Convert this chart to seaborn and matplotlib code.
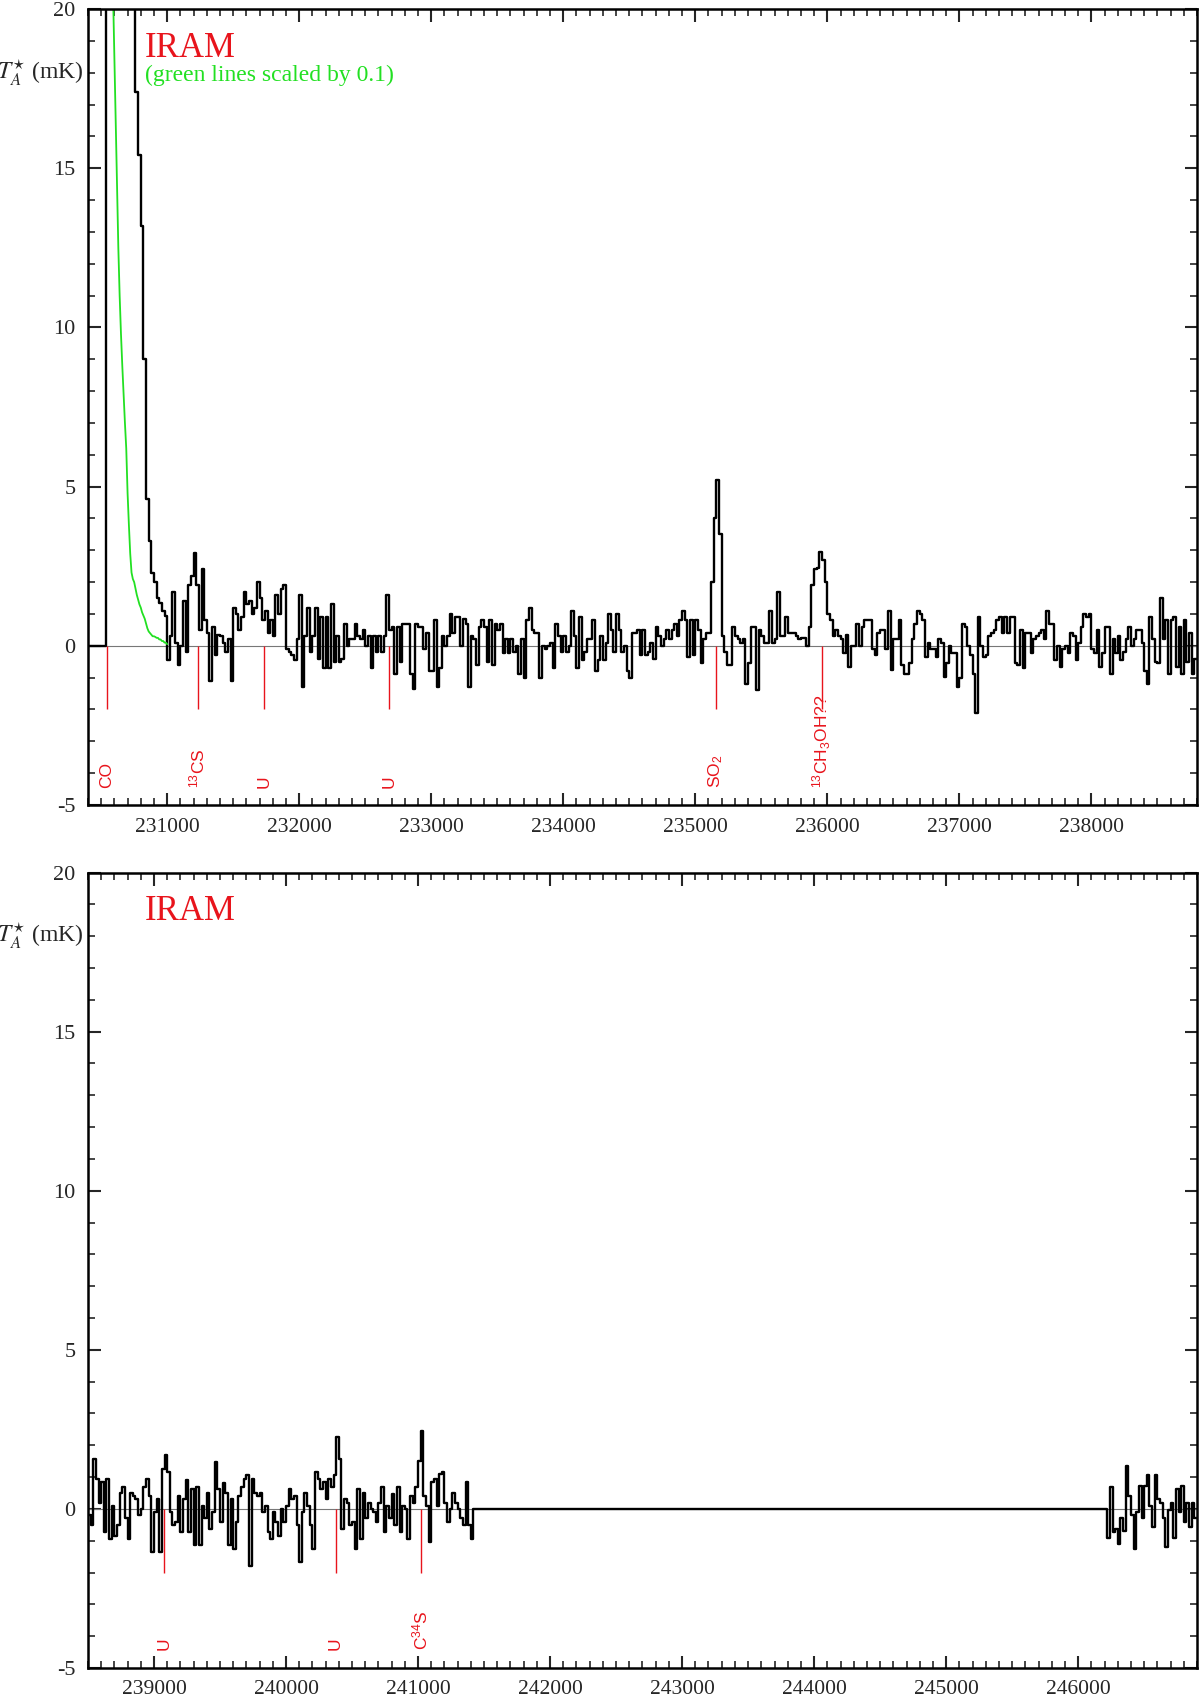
import numpy as np
import pandas as pd
import seaborn as sns
import matplotlib
matplotlib.use("Agg")
import matplotlib.pyplot as plt
import matplotlib.transforms as mtransforms
from matplotlib.ticker import MultipleLocator

sns.set_theme(style="ticks")
plt.rcParams['font.family'] = ['Liberation Serif', 'DejaVu Serif']
plt.rcParams['axes.unicode_minus'] = False
plt.rcParams['mathtext.fontset'] = 'custom'
plt.rcParams['mathtext.rm'] = 'Liberation Sans'
plt.rcParams['mathtext.it'] = 'Liberation Sans:italic'
plt.rcParams['mathtext.bf'] = 'Liberation Sans:bold'

RED = "#e8141c"
GREEN = "#22e022"

# spectrum, 20 MHz channels, T_A* in mK
chan = 20.0

top_start = 230400.0
top_values = [
    0, 0, 0, 0, 0, 0, 0, 80, 80, 80,
    80, 80, 80, 80, 80, 80, 80, 80, 17.4, 15.4,
    13.2, 9.0, 4.6, 3.3, 2.3, 2.0, 1.5, 1.35, 1.1, 0.95,
    -0.45, 0.3, 1.7, 0.1, -0.6, 0.0, 1.4, -0.2, 1.9, 2.2,
    2.9, 1.9, 0.5, 2.4, 0.8, 0.4, -1.1, 0.6, -0.3, 0.35,
    0.3, 0.1, -0.2, 0.2, -1.1, 1.2, 1.0, 0.5, 0.9, 1.7,
    1.3, 1.4, 1.0, 1.2, 2.0, 1.5, 0.8, 1.1, 0.4, 0.8,
    0.3, 1.6, 1.0, 1.8, 1.9, -0.1, -0.2, -0.3, -0.45, 0.2,
    1.6, -1.3, 0.3, 1.2, -0.2, 0.3, 1.2, -0.4, 0.9, -0.7,
    0.9, -0.7, 1.3, -0.5, 0.3, -0.5, -0.4, 0.7, 0.0, 0.2,
    0.2, 0.7, 0.3, 0.2, 0.5, 0.0, 0.3, -0.7, 0.3, -0.2,
    0.3, -0.2, 0.3, 1.6, 0.5, 0.6, -0.9, 0.6, -0.5, 0.7,
    0.7, 0.7, -0.9, -1.35, 0.7, 0.6, 0.6, -0.1, 0.4, -0.8,
    -0.8, 0.8, -1.3, -0.7, 0.3, 0.0, 0.3, 1.0, 0.4, 0.9,
    0.9, 0.0, 0.85, 0.7, -1.3, 0.3, 0.2, -0.6, 0.6, 0.8,
    0.6, -0.5, 0.8, -0.6, 0.7, 0.5, 0.7, -0.24, 0.2, -0.24,
    0.2, -0.2, 0.0, -0.9, 0.2, -1.0, 0.8, 1.2, 0.5, 0.4,
    0.4, -1.0, 0.0, -0.1, 0.0, 0.1, -0.7, 0.7, 0.3, -0.2,
    0.3, -0.2, 0.0, 1.1, 0.3, -0.7, 0.9, -0.45, -0.2, 0.2,
    0.2, 0.8, -0.8, -0.45, 0.3, -0.45, 0.1, 1.0, 0.5, -0.2,
    1.0, 0.5, -0.2, 0.0, -0.8, -1.0, 0.4, 0.4, 0.5, -0.3,
    0.5, -0.3, -0.2, 0.1, -0.4, 0.6, 0.3, 0.0, 0.2, 0.5,
    0.2, 0.5, 0.7, 0.3, 0.8, 1.1, 0.8, -0.35, 0.8, -0.3,
    0.8, 0.5, -0.55, 0.2, 0.4, 0.4, 2.0, 4.0, 5.2, 3.5,
    0.3, -0.2, -0.6, -0.6, 0.6, 0.3, 0.2, 0.1, 0.2, -1.2,
    -0.55, 0.6, 0.6, -1.4, 0.5, 0.3, 0.1, 0.1, 1.1, 0.1,
    0.2, 1.7, 0.3, 0.3, 0.9, 0.4, 0.4, 0.4, 0.3, 0.2,
    0.25, 0.25, 0.0, 0.6, 1.9, 2.4, 2.45, 2.95, 2.7, 2.0,
    1.0, 0.8, 0.3, 0.5, 0.3, 0.2, -0.24, 0.35, -0.68, 0.0,
    0.0, 0.7, 0.0, 0.6, 0.8, 0.8, 0.8, -0.1, -0.3, 0.4,
    0.5, 0.5, -0.1, 1.1, -0.76, 0.2, 0.2, 0.8, -0.6, -0.88,
    -0.88, -0.55, 0.2, 0.7, 1.1, 1.0, 0.8, -0.35, 0.1, -0.1,
    -0.1, -0.35, 0.2, 0.1, -0.97, -0.55, 0.0, -0.24, -0.24, -1.29,
    -1.0, 0.7, 0.6, 0.0, -0.3, -0.88, -2.1, 0.9, 0.0, -0.35,
    -0.3, 0.3, 0.4, 0.5, 0.8, 0.9, 0.4, 0.9, 0.4, 0.9,
    0.9, -0.55, -0.6, 0.5, -0.7, 0.4, 0.4, -0.24, 0.2, 0.3,
    0.4, 0.5, 0.2, 1.1, 0.7, 0.7, -0.45, 0.0, -0.68, -0.1,
    0.0, -0.24, 0.4, 0.3, -0.45, 0.1, 0.6, 1.0, 0.9, 1.0,
    -0.1, -0.24, 0.5, -0.68, -0.24, 0.6, 0.6, -0.88, 0.2, -0.24,
    0.3, -0.45, -0.2, 0.2, 0.6, 0.0, 0.2, 0.5, 0.5, 0.1,
    -0.8, -1.2, 0.9, 0.2, -0.5, -0.55, 1.5, 0.2, 0.8, -0.88,
    0.8, 0.9, -0.68, 0.6, -0.9, 0.8, -0.5, 0.4, -0.9, -0.4,
]

# CO wing, scaled by 0.1, 10 MHz sampling
green_start = 230580.0
green_step = 10.0
green_values = [
    30, 20.5, 18.5, 16.5, 14.5, 12.5, 11.0, 9.8, 8.8, 7.9,
    7.0, 6.2, 4.8, 3.8, 2.9, 2.3, 2.1, 2.0, 1.8, 1.6,
    1.45, 1.3, 1.2, 1.05, 0.95, 0.85, 0.7, 0.55, 0.45, 0.4,
    0.35, 0.3, 0.3, 0.28, 0.25, 0.25, 0.2, 0.2, 0.15, 0.15,
    0.1, 0.1, 0.05,
]

bot_start = 238500.0
bot_left_values = [
    -0.2, -0.5, 1.57, 0.94, 0.2, 0.84, -0.73, 0.94, -0.94, 0.1,
    -0.84, -0.5, 0.5, 0.7, -0.3, -0.94, 0.5, 0.42, 0.3, -0.2,
    0.0, 0.7, 0.94, 0.42, -1.36, -0.1, 0.3, -1.36, 1.26, 1.68,
    1.15, -0.1, -0.5, -0.4, 0.42, -0.73, 0.3, 0.9, -0.73, 0.63,
    -1.15, 0.7, -1.15, 0.1, -0.3, 0.5, -0.63, -0.1, 1.47, 0.63,
    -0.4, 0.8, 0.5, -1.15, 0.3, -1.26, -0.4, 0.42, 0.7, 0.94,
    1.05, -1.78, 0.94, 0.5, 0.42, 0.5, -0.1, 0.1, -0.73, -0.94,
    -0.1, -0.4, -0.84, 0.0, -0.4, 0.1, 0.63, 0.3, 0.42, -0.5,
    -1.68, -0.1, 0.5, 0.1, -0.5, -1.26, 1.15, 0.94, 0.63, 0.84,
    0.3, 0.94, 0.7, 1.05, 2.25, 1.57, -0.63, 0.3, 0.2, -0.5,
    -0.4, -1.26, 0.63, -0.94, 0.5, -0.3, 0.2, 0.0, -0.1, -0.4,
    0.2, 0.7, -0.73, 0.1, -0.3, 0.47, -0.5, 0.7, -0.73, 0.1,
    0.0, -0.94, 0.42, 0.2, 0.7, 1.52, 2.46, 0.42, 0.1, -1.05,
    0.84, 0.94, 0.1, 1.1, 1.15, 0.2, -0.4, 0.0, 0.5, 0.2,
    0.0, -0.3, -0.5, 0.84, -0.5, -0.94,
]
bot_gap_end = 246220.0
bot_right_values = [
    -0.9, 0.68, -0.73, -0.63, -1.1, -0.3, -0.68, 1.36, 0.42, -0.2,
    -1.26, -0.1, 0.73, -0.3, 0.73, 1.05, 0.1, -0.58, 1.05, 0.3,
    0.2, -0.3, -1.2, -0.05, 0.2, -0.9, 0.63, -0.1, 0.73, -0.4,
    0.2, -0.58, 0.2, -0.3,
]

top_line_freq = [230545, 231232, 231733, 232680, 235155, 235960]
top_line_label = ['CO', '$^{13}$CS', 'U', 'U', 'SO$_2$', '$^{13}$CH$_3$OH??']
bot_line_freq = [239078, 240375, 241020]
bot_line_label = ['U', 'U', 'C$^{34}$S']

top_range = (230400, 238800)
bot_range = (238500, 246900)


def steps(start, values):
    # channel left edges, closing edge repeats last value
    edges = start + chan * np.arange(len(values) + 1)
    vals = list(values) + [values[-1]]
    return edges, vals


def spectrum_frame(parts):
    xs, ys = [], []
    for start, values in parts:
        e, v = steps(start, values)
        xs.extend(e)
        ys.extend(v)
    return pd.DataFrame({"freq": xs, "ta": ys})


def style_axes(ax, xr):
    ax.set_xlim(*xr)
    ax.set_ylim(-5, 20)
    ax.xaxis.set_major_locator(MultipleLocator(1000))
    ax.xaxis.set_minor_locator(MultipleLocator(100))
    ax.set_yticks([-5, 0, 5, 10, 15, 20])
    ax.yaxis.set_minor_locator(MultipleLocator(1))
    ax.tick_params(which='both', direction='in', top=True, right=True,
                   labelright=False, labeltop=False)
    ax.tick_params(which='major', length=9, width=1.5, pad=9)
    ax.tick_params(which='minor', length=5, width=1.2)
    ax.tick_params(axis='y', labelsize=16)
    ax.tick_params(axis='x', labelsize=15.5)
    for s in ax.spines.values():
        s.set_linewidth(1.8)
        s.set_color('black')
    ax.set_xlabel('')
    ax.set_ylabel('')
    ax.axhline(0, color='#777777', lw=0.8, zorder=1)
    trans = mtransforms.blended_transform_factory(ax.transAxes, ax.transData)
    ax.text(-0.004, 18, r'$T_A^{\star}$ (mK)', transform=trans, ha='right',
            va='center', fontsize=17, math_fontfamily='stix')
    ax.text(0.0514, 0.951, 'IRAM', transform=ax.transAxes, color=RED,
            fontsize=25, ha='left', va='center')


def mark_lines(ax, freqs, labels):
    ax.vlines(freqs, -2, 0, color=RED, lw=1.0, zorder=3)
    for f, lab in zip(freqs, labels):
        ax.text(f, -4.45, lab, rotation=90, ha='center', va='bottom',
                color=RED, fontsize=12.5, family=['Liberation Sans', 'DejaVu Sans'],
                math_fontfamily='custom')


fig = plt.figure(figsize=(12, 16.98), dpi=100)
ax_top = fig.add_axes([0.0733, 0.5259, 0.9242, 0.4688])
ax_bot = fig.add_axes([0.0733, 0.0177, 0.9242, 0.4684])

# top panel
top_df = spectrum_frame([(top_start, top_values)])
sns.lineplot(data=top_df, x="freq", y="ta", ax=ax_top, color='black', lw=1.7,
             drawstyle='steps-post', estimator=None, sort=False, zorder=2)
green_df = pd.DataFrame({
    "freq": green_start + green_step * np.arange(len(green_values)),
    "ta": green_values,
})
sns.lineplot(data=green_df, x="freq", y="ta", ax=ax_top, color=GREEN, lw=1.3,
             estimator=None, sort=False, zorder=2)
style_axes(ax_top, top_range)
mark_lines(ax_top, top_line_freq, top_line_label)
ax_top.text(0.0514, 0.917, '(green lines scaled by 0.1)', transform=ax_top.transAxes,
            color=GREEN, fontsize=17, ha='left', va='center')

# bottom panel
bot_df = spectrum_frame([(bot_start, bot_left_values)])
gap_start = bot_start + chan * len(bot_left_values)
bot_df = pd.concat([
    bot_df.iloc[:-1],
    pd.DataFrame({"freq": [gap_start], "ta": [0.0]}),
    spectrum_frame([(bot_gap_end, bot_right_values)]),
], ignore_index=True)
sns.lineplot(data=bot_df, x="freq", y="ta", ax=ax_bot, color='black', lw=1.7,
             drawstyle='steps-post', estimator=None, sort=False, zorder=2)
style_axes(ax_bot, bot_range)
mark_lines(ax_bot, bot_line_freq, bot_line_label)

fig.savefig("out.png", dpi=100)
